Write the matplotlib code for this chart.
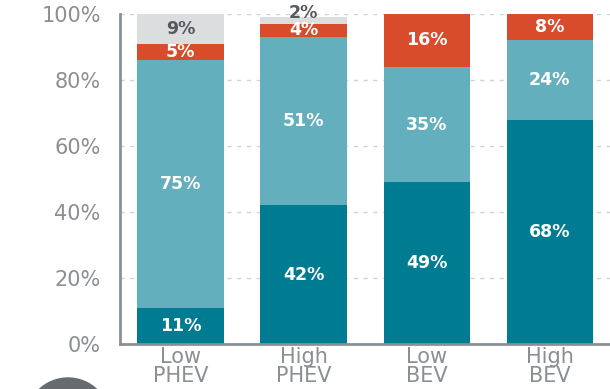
import matplotlib.pyplot as plt
import numpy as np
from matplotlib.patches import Circle

categories = ["Low\nPHEV", "High\nPHEV", "Low\nBEV", "High\nBEV"]
electric = [11, 42, 49, 68]
charge_blend = [75, 51, 35, 24]
gas_backup = [5, 4, 16, 8]
other = [9, 2, 0, 0]

series = [
    (electric, "#007c92", "white"),
    (charge_blend, "#64afbe", "white"),
    (gas_backup, "#d84c2b", "white"),
    (other, "#dcdddf", "#555a5e"),
]

fig = plt.figure(figsize=(6.1, 3.89), dpi=100)
ax = fig.add_axes([0.197, 0.116, 0.803, 0.848])

x = np.arange(len(categories))
bottom = np.zeros(len(categories))
for values, color, text_color in series:
    vals = np.array(values, dtype=float)
    ax.bar(x, vals, bottom=bottom, width=0.70, color=color, zorder=2)
    for xi, b, v in zip(x, bottom, vals):
        if v <= 0:
            continue
        y = b + v / 2
        # thin top slivers: push the label up so it clears the one below
        if v < 3:
            y = b + v + 1.2
        ax.text(xi, y, f"{int(v)}%", ha="center", va="center",
                color=text_color, fontsize=12.5, fontweight="bold",
                family="DejaVu Sans", zorder=3)
    bottom += vals

ax.set_xlim(-0.49, 3.49)
ax.set_ylim(0, 100)
ax.set_yticks([0, 20, 40, 60, 80, 100])
ax.set_yticklabels([f"{t}%" for t in [0, 20, 40, 60, 80, 100]])
ax.set_xticks(x)
ax.set_xticklabels(categories, linespacing=0.95)
ax.yaxis.grid(True, linestyle=(0, (3, 4)), color="#cfd3d6", linewidth=1, zorder=0)

for lbl in ax.get_yticklabels() + ax.get_xticklabels():
    lbl.set_color("#8a8f93")
    lbl.set_fontsize(15)
    lbl.set_family("DejaVu Sans")
ax.tick_params(axis="both", length=0)
ax.tick_params(axis="y", pad=14)
ax.tick_params(axis="x", pad=2)

for side in ["top", "right"]:
    ax.spines[side].set_visible(False)
for side in ["left", "bottom"]:
    ax.spines[side].set_color("#8a9095")
    ax.spines[side].set_linewidth(2)

# partial badge at the bottom edge
fig.patches.append(Circle((68, -31), 42, transform=None, color="#666b6f",
                          zorder=5))

fig.savefig("out.png", dpi=100)
